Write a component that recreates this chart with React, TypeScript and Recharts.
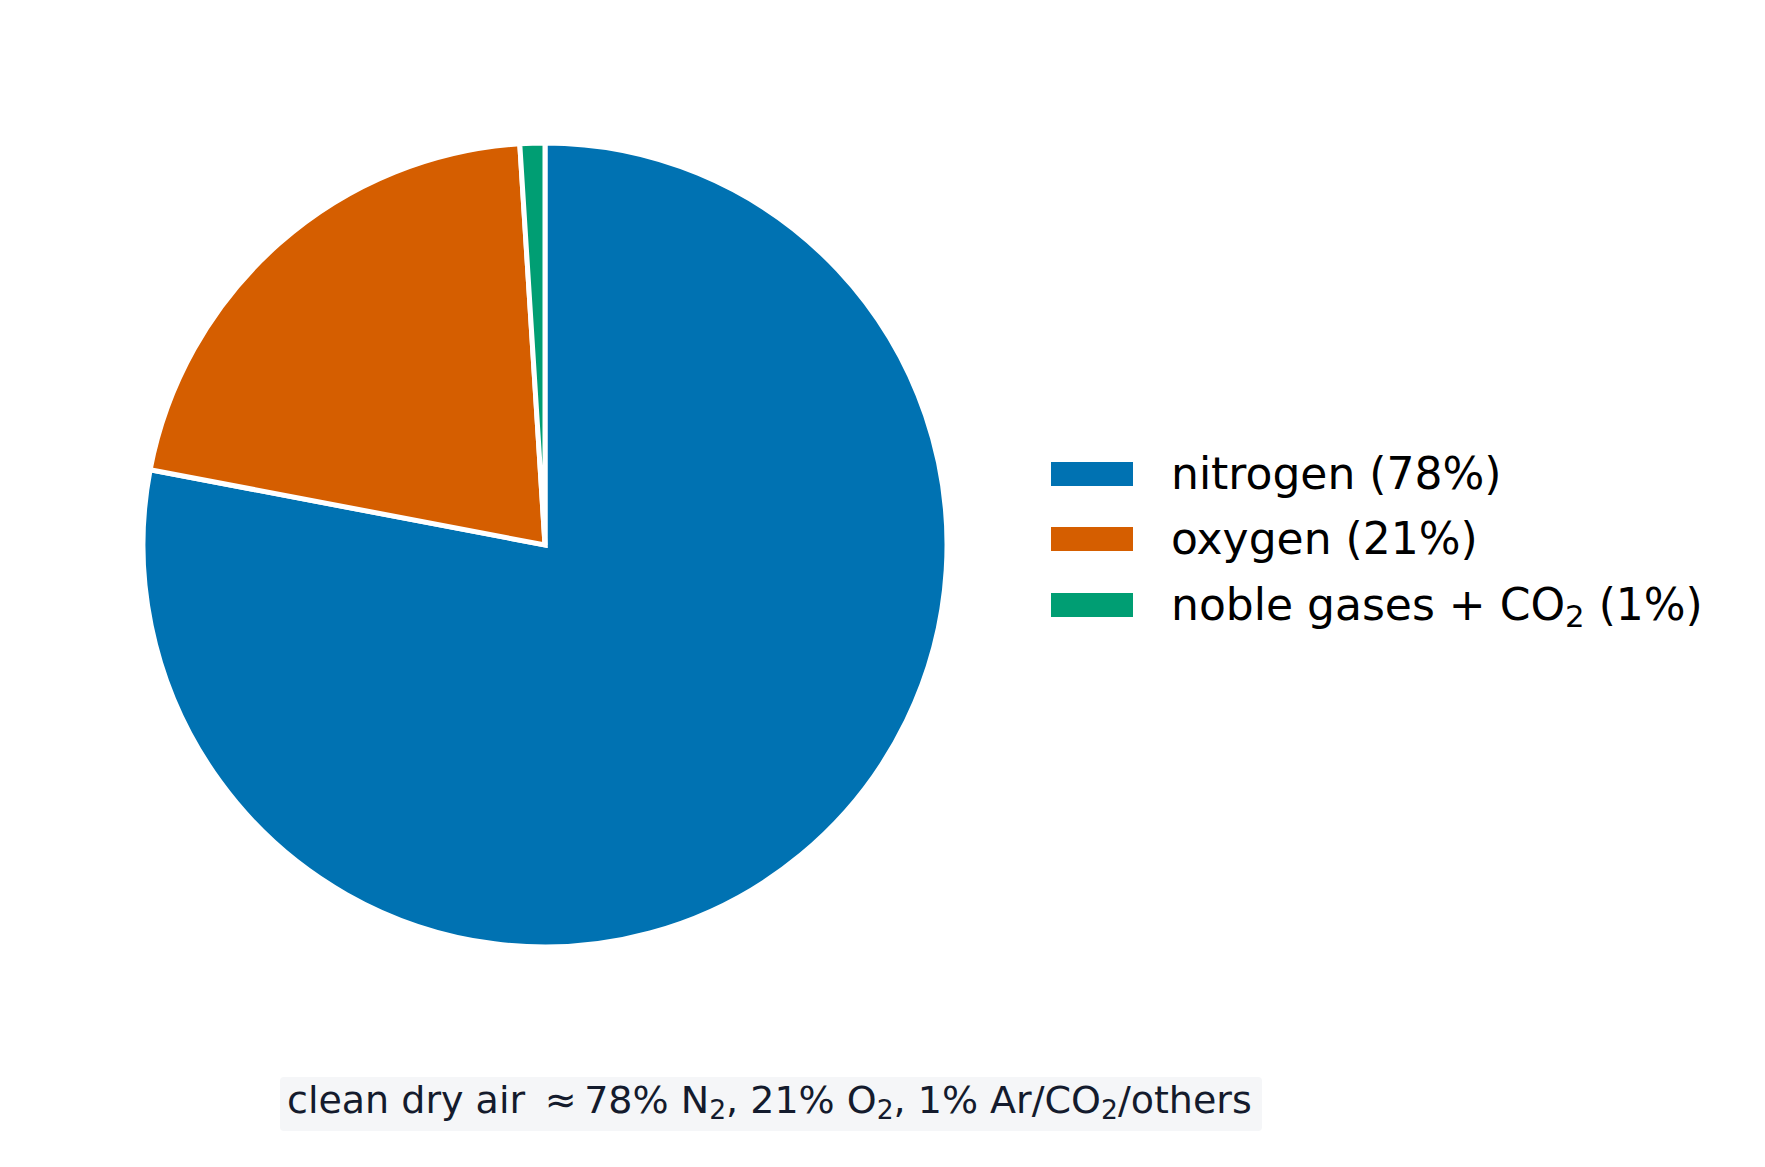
/**
 * Composition of clean dry air — single pie with a right-hand legend
 * and a small caption box underneath.
 */
import { PieChart, Pie, Cell, Legend } from 'recharts'

const GASES = ['nitrogen', 'oxygen', 'noble gases + CO2']
const SHARES = [78, 21, 1]
const COLORS = ['#0072b2', '#d55e00', '#009e73']
const CAPTION = 'clean dry air \u2009\u2248\u200978% N2, 21% O2, 1% Ar/CO2/others'

const FONT = '"DejaVu Sans", sans-serif'

const data = GASES.map((name, i) => ({ name, value: SHARES[i] }))

// turn "CO2" / "N2" / "O2" into a chemistry subscript
function withSubs(text: string, drop: string) {
  const parts = text.split(/(?<=[A-Z])2/)
  const out: React.ReactNode[] = []
  parts.forEach((p, i) => {
    out.push(<span key={'t' + i}>{p}</span>)
    if (i < parts.length - 1) {
      out.push(
        <span key={'s' + i} style={{ fontSize: '0.7em', position: 'relative', top: drop }}>
          2
        </span>,
      )
    }
  })
  return out
}

function LegendBox() {
  return (
    <div style={{ fontFamily: FONT, fontSize: 44, color: '#000' }}>
      {GASES.map((g, i) => (
        <div key={g} style={{ display: 'flex', alignItems: 'center', height: 65.5 }}>
          <div style={{ width: 82, height: 24, background: COLORS[i], marginRight: 38 }} />
          <span style={{ whiteSpace: 'nowrap', lineHeight: 1 }}>
            {withSubs(`${g} (${SHARES[i]}%)`, '0.24em')}
          </span>
        </div>
      ))}
    </div>
  )
}

export default function App() {
  return (
    <div
      style={{
        position: 'absolute',
        left: 0,
        top: 0,
        width: 1765,
        height: 1167,
        background: '#fff',
        fontFamily: FONT,
      }}
    >
      <PieChart width={1765} height={1167} margin={{ top: 0, right: 0, bottom: 0, left: 0 }}>
        <Pie
          data={data}
          dataKey="value"
          nameKey="name"
          cx={545}
          cy={545}
          outerRadius={402}
          startAngle={90}
          endAngle={-270}
          stroke="#fff"
          strokeWidth={5}
          isAnimationActive={false}
        >
          {data.map((d, i) => (
            <Cell key={d.name} fill={COLORS[i]} />
          ))}
        </Pie>
        <Legend
          layout="vertical"
          align="right"
          verticalAlign="top"
          content={() => <LegendBox />}
          wrapperStyle={{ left: 1051, top: 441, right: 'auto', width: 700 }}
        />
      </PieChart>
      <div
        style={{
          position: 'absolute',
          left: 280,
          top: 1077,
          height: 54,
          boxSizing: 'border-box',
          padding: '0 10px 0 7px',
          lineHeight: '46px',
          fontSize: 38,
          color: '#141b2d',
          background: '#f5f6f8',
          borderRadius: 4,
          whiteSpace: 'nowrap',
        }}
      >
        {withSubs(CAPTION, '6px')}
      </div>
    </div>
  )
}
